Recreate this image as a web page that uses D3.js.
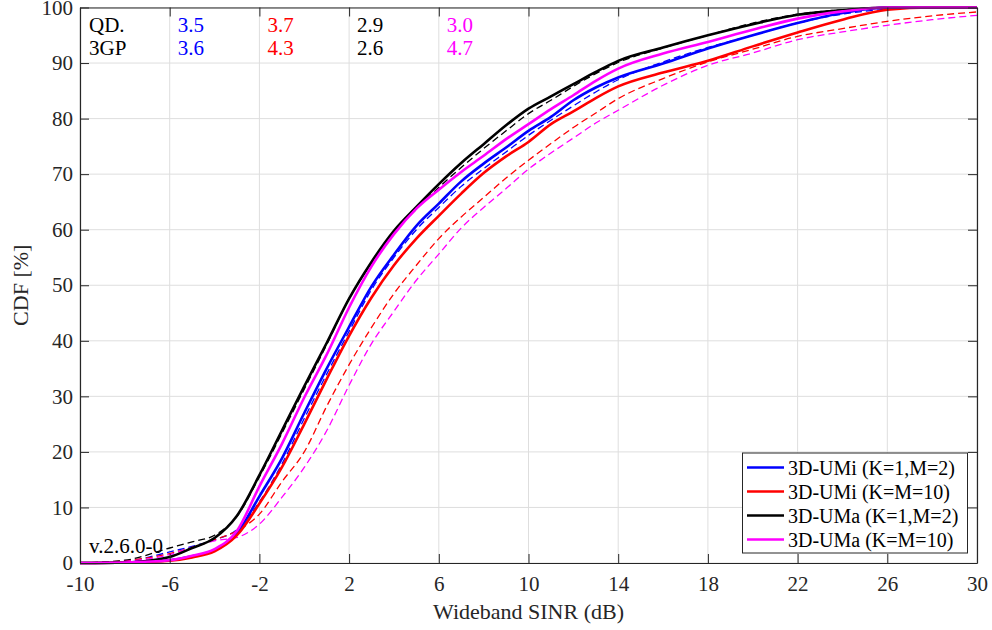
<!DOCTYPE html>
<html><head><meta charset="utf-8">
<script src="https://cdn.jsdelivr.net/npm/d3@7"></script>
<style>
body{margin:0;background:#fff}
svg{display:block}
text{font-family:"Liberation Serif","Times New Roman",serif}
</style>
</head><body>
<svg id="c" width="992" height="630"></svg>
<script>
// ---- data ----
const sinr = [-10,-8,-6,-5,-4,-3,-2,-1,0,1,2,3,4,5,6,7,8,9,10,11,12,13,14,16,18,20,22,24,26,28,30];
// QuaDRiGa (solid)
const qdUMi12  = [0,0.1,0.5,1.2,2.3,5.3,12.0,18.8,27.0,35.0,42.5,49.8,55.5,60.7,64.7,68.7,71.9,74.8,77.8,80.3,83.3,85.6,87.4,89.9,92.6,95.0,97.2,99.0,100,100,100];
const qdUMi10  = [0,0.1,0.4,1.0,2.1,5.0,10.7,17.2,25.0,33.1,40.9,47.8,53.6,58.4,62.5,66.5,70.2,73.2,75.8,79.0,81.3,83.7,85.8,88.3,90.4,93.0,95.5,97.8,99.6,100,100];
const qdUMa12  = [0,0.1,1.1,2.7,4.5,8.5,15.8,23.8,31.8,39.6,47.6,54.2,59.8,64.1,68.2,72.0,75.4,78.8,81.8,84.0,86.2,88.4,90.4,92.8,95.0,97.0,98.7,99.5,100,100,100];
const qdUMa10  = [0,0.1,0.5,1.3,2.5,5.8,13.8,21.4,29.8,37.5,46.0,53.4,59.2,63.8,67.2,70.4,73.3,76.3,79.0,81.7,84.2,86.8,89.0,91.7,93.8,96.0,98.0,99.3,100,100,100];
// 3GPP (dashed)
const gpUMi12  = [0,0.3,2.0,3.0,4.2,6.0,11.0,17.8,26.0,34.0,41.7,49.2,55.0,60.0,64.0,67.8,71.0,74.0,77.0,79.7,82.3,84.8,87.0,90.2,92.8,95.0,97.2,98.8,99.7,100,100];
const gpUMi10  = [0,0.4,1.7,2.8,4.2,5.8,8.8,14.6,20.0,28.2,35.7,42.4,48.5,53.6,58.4,62.3,65.8,69.3,72.5,75.5,78.4,81.0,83.6,87.2,90.2,92.5,94.8,96.2,97.5,98.5,99.2];
const gpUMa12  = [0,0.5,2.7,3.8,5.0,8.4,15.5,23.3,31.3,39.3,47.6,54.0,59.5,63.7,67.6,71.2,74.6,77.8,80.9,83.3,85.8,88.1,90.1,92.7,95.0,97.2,98.8,99.6,100,100,100];
const gpUMa10  = [0,0.3,1.5,2.8,4.0,4.6,7.0,11.8,17.2,23.8,32.0,39.5,45.3,50.9,55.6,60.3,64.0,67.4,70.9,73.8,76.5,79.2,81.5,86.0,89.6,91.8,94.2,95.6,96.8,97.8,98.6];

const seriesNames = ["3D-UMi (K=1,M=2)","3D-UMi (K=M=10)","3D-UMa (K=1,M=2)","3D-UMa (K=M=10)"];
const seriesColors = ["#0000ff","#ff0000","#000000","#ff00ff"];
const qdSeries = [qdUMi12, qdUMi10, qdUMa12, qdUMa10];
const gpSeries = [gpUMi12, gpUMi10, gpUMa12, gpUMa10];
const qdMedian = ["3.5","3.7","2.9","3.0"];
const gpMedian = ["3.6","4.3","2.6","4.7"];
const xTicks = [-10,-6,-2,2,6,10,14,18,22,26,30];
const yTicks = [0,10,20,30,40,50,60,70,80,90,100];

// ---- layout ----
const L = 80, R = 977, T = 7.5, B = 563;
const svg = d3.select("#c");
const x = d3.scaleLinear().domain([-10,30]).range([L,R]);
const y = d3.scaleLinear().domain([0,100]).range([B,T]);
const axisCol = "#262626";
const font = '"Liberation Serif","Times New Roman",serif';

// grid
const g = svg.append("g");
g.selectAll(".gx").data(xTicks).join("line")
  .attr("x1",d=>x(d)).attr("x2",d=>x(d)).attr("y1",T).attr("y2",B)
  .attr("stroke","#dedede").attr("stroke-width",1);
g.selectAll(".gy").data(yTicks).join("line")
  .attr("x1",L).attr("x2",R).attr("y1",d=>y(d)).attr("y2",d=>y(d))
  .attr("stroke","#dedede").attr("stroke-width",1);

// curves
const line = d3.line().x((d,i)=>x(sinr[i])).y(d=>y(d)).curve(d3.curveMonotoneX);
const plot = svg.append("g");
gpSeries.forEach((s,i)=>{
  plot.append("path").attr("d",line(s)).attr("fill","none")
    .attr("stroke",seriesColors[i]).attr("stroke-width",1.3)
    .attr("stroke-dasharray","7,4");
});
qdSeries.forEach((s,i)=>{
  plot.append("path").attr("d",line(s)).attr("fill","none")
    .attr("stroke",seriesColors[i]).attr("stroke-width",2.6)
    .attr("stroke-linejoin","round");
});

// axes (inward ticks, box)
function styleAxis(sel){
  sel.select(".domain").attr("stroke",axisCol).attr("stroke-width",1.2);
  sel.selectAll(".tick line").attr("stroke",axisCol).attr("stroke-width",1);
  sel.selectAll("text").attr("fill",axisCol).style("font-family",font).style("font-size","21px");
}
const ax = svg.append("g").attr("transform",`translate(0,${B})`)
  .call(d3.axisBottom(x).tickValues(xTicks).tickSizeInner(-9).tickSizeOuter(0).tickPadding(13).tickFormat(d3.format("d")))
  .call(styleAxis);
ax.selectAll("text").text(d=>String(d));
svg.append("g").attr("transform",`translate(0,${T})`)
  .call(d3.axisTop(x).tickValues(xTicks).tickSizeInner(-9).tickSizeOuter(0).tickFormat(""))
  .call(styleAxis);
svg.append("g").attr("transform",`translate(${L},0)`)
  .call(d3.axisLeft(y).tickValues(yTicks).tickSizeInner(-9).tickSizeOuter(0).tickPadding(7))
  .call(styleAxis);
svg.append("g").attr("transform",`translate(${R},0)`)
  .call(d3.axisRight(y).tickValues(yTicks).tickSizeInner(-9).tickSizeOuter(0).tickFormat(""))
  .call(styleAxis);

// axis labels
svg.append("text").attr("x",(L+R)/2).attr("y",619).attr("text-anchor","middle")
  .attr("fill",axisCol).style("font-size","22px").text("Wideband SINR (dB)");
svg.append("text").attr("transform",`translate(28,${(T+B)/2}) rotate(-90)`).attr("text-anchor","middle")
  .attr("fill",axisCol).style("font-size","22px").text("CDF [%]");

// median annotations
svg.append("text").attr("x",89).attr("y",32).style("font-size","21px").attr("fill","#000").text("QD.");
svg.append("text").attr("x",89).attr("y",55).style("font-size","21px").attr("fill","#000").text("3GP");
qdMedian.forEach((v,i)=>{
  svg.append("text").attr("x",x(-6+4*i)+8).attr("y",32).style("font-size","21px").attr("fill",seriesColors[i]).text(v);
});
gpMedian.forEach((v,i)=>{
  svg.append("text").attr("x",x(-6+4*i)+8).attr("y",55).style("font-size","21px").attr("fill",seriesColors[i]).text(v);
});

// version text
svg.append("text").attr("x",89).attr("y",553).style("font-size","21px").attr("fill","#000").text("v.2.6.0-0");

// legend
const lg = svg.append("g");
lg.append("rect").attr("x",742.5).attr("y",453).attr("width",225).attr("height",100)
  .attr("fill","#fff").attr("stroke",axisCol).attr("stroke-width",1);
seriesNames.forEach((n,i)=>{
  const yy = 467.5 + i*24;
  lg.append("line").attr("x1",747).attr("x2",784).attr("y1",yy).attr("y2",yy)
    .attr("stroke",seriesColors[i]).attr("stroke-width",2.6);
  lg.append("text").attr("x",788).attr("y",yy+7.5).style("font-size","20px").attr("fill","#000").text(n);
});
</script>
</body></html>
